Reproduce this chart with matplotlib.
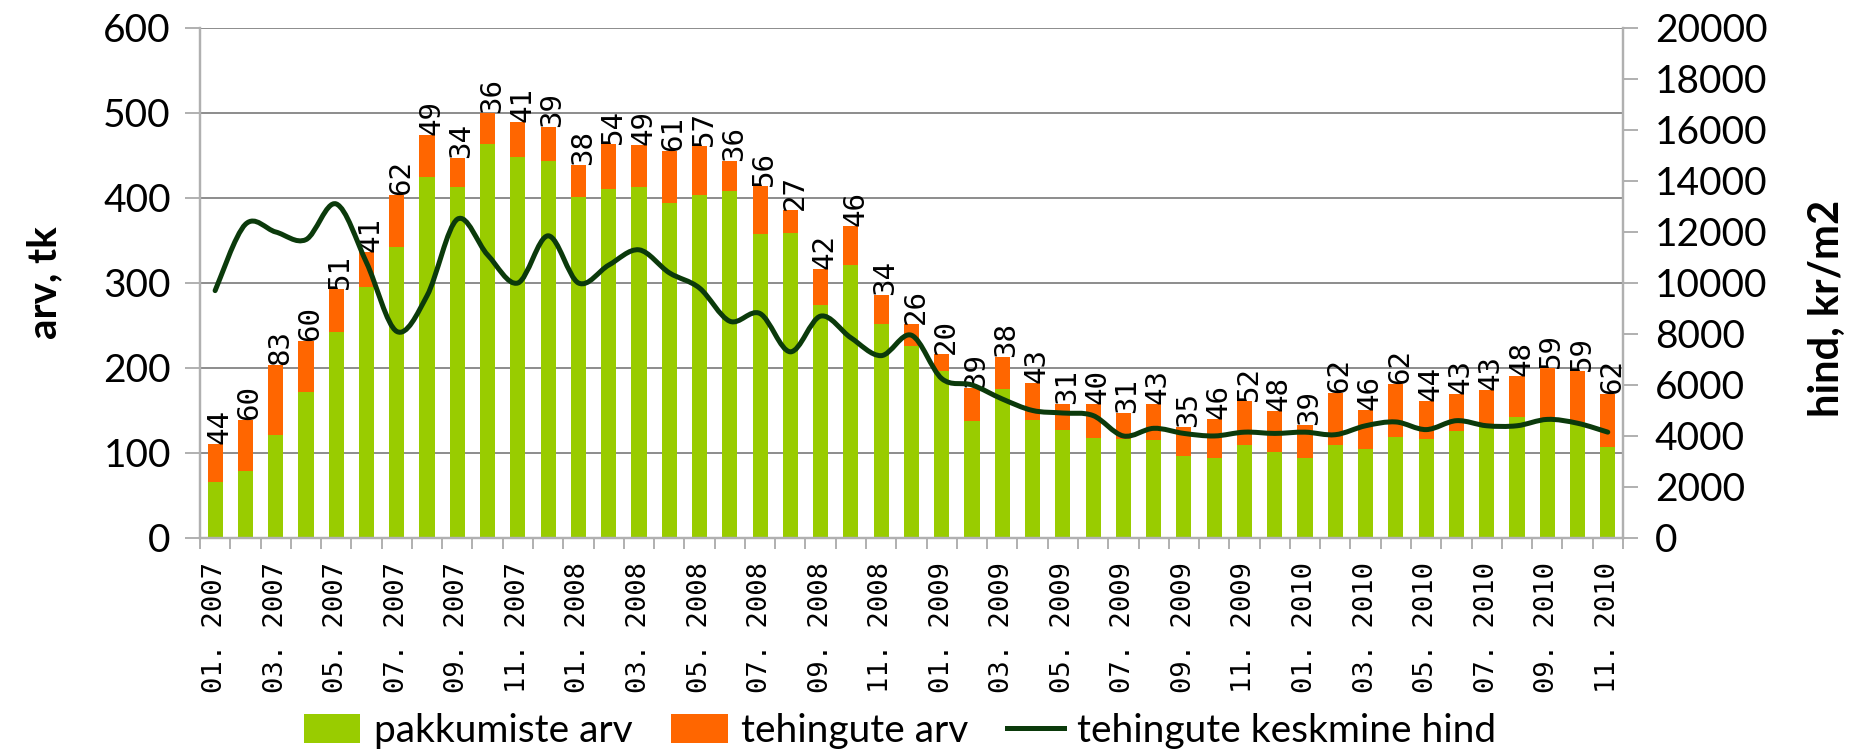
import matplotlib
matplotlib.use("Agg")
import matplotlib.pyplot as plt
from matplotlib.path import Path
from matplotlib.patches import PathPatch, Patch
from matplotlib.lines import Line2D
import numpy as np

# -------------------------------------------------------------
# Andmed: kuud 01.2007 - 11.2010
# -------------------------------------------------------------
kuud = [
    "01. 2007", "02. 2007", "03. 2007", "04. 2007", "05. 2007", "06. 2007",
    "07. 2007", "08. 2007", "09. 2007", "10. 2007", "11. 2007", "12. 2007",
    "01. 2008", "02. 2008", "03. 2008", "04. 2008", "05. 2008", "06. 2008",
    "07. 2008", "08. 2008", "09. 2008", "10. 2008", "11. 2008", "12. 2008",
    "01. 2009", "02. 2009", "03. 2009", "04. 2009", "05. 2009", "06. 2009",
    "07. 2009", "08. 2009", "09. 2009", "10. 2009", "11. 2009", "12. 2009",
    "01. 2010", "02. 2010", "03. 2010", "04. 2010", "05. 2010", "06. 2010",
    "07. 2010", "08. 2010", "09. 2010", "10. 2010", "11. 2010",
]

pakkumiste_arv = [
    66, 79, 121, 172, 242, 295, 342, 425, 413, 464, 448, 444,
    401, 410, 413, 394, 404, 408, 358, 359, 274, 321, 252, 226,
    196, 138, 175, 139, 127, 118, 116, 115, 96, 94, 109, 101,
    94, 109, 105, 119, 117, 126, 131, 142, 141, 137, 107,
]

tehingute_arv = [
    44, 60, 83, 60, 51, 41, 62, 49, 34, 36, 41, 39,
    38, 54, 49, 61, 57, 36, 56, 27, 42, 46, 34, 26,
    20, 39, 38, 43, 31, 40, 31, 43, 35, 46, 52, 48,
    39, 62, 46, 62, 44, 43, 43, 48, 59, 59, 62,
]

keskmine_hind = [
    9700, 12300, 12000, 11700, 13100, 10800, 8100, 9500, 12500, 11100, 10000, 11850,
    10000, 10700, 11300, 10400, 9800, 8500, 8800, 7300, 8700, 7850, 7150, 7950,
    6250, 6000, 5450, 5000, 4900, 4800, 4000, 4300, 4100, 4000, 4150, 4100,
    4150, 4050, 4400, 4550, 4250, 4600, 4400, 4400, 4650, 4500, 4150,
]

ROHELINE = "#99CC00"
ORANZ = "#FF6600"
JOON = "#0B3A0B"
HALL = "#8C8C8C"
SPINE = "#B0B0B0"

plt.rcParams["font.family"] = ["Lato", "DejaVu Sans"]


def sujuv_tee(x, y):
    # Exceli "smoothed line" sarnane Bezier kõver läbi andmepunktide
    n = len(x)
    verts = [(x[0], y[0])]
    codes = [Path.MOVETO]
    for i in range(n - 1):
        xp, yp = (x[i - 1], y[i - 1]) if i > 0 else (x[i], y[i])
        xn, yn = (x[i + 2], y[i + 2]) if i + 2 < n else (x[i + 1], y[i + 1])
        c1 = (x[i] + (x[i + 1] - xp) / 6, y[i] + (y[i + 1] - yp) / 6)
        c2 = (x[i + 1] - (xn - x[i]) / 6, y[i + 1] - (yn - y[i]) / 6)
        verts += [c1, c2, (x[i + 1], y[i + 1])]
        codes += [Path.CURVE4] * 3
    return Path(verts, codes)


x = np.arange(len(kuud))
kokku = np.array(pakkumiste_arv) + np.array(tehingute_arv)

fig = plt.figure(figsize=(18.62, 7.56), dpi=100)
ax = fig.add_axes([0.1074, 0.2884, 0.7642, 0.6746])
ax2 = ax.twinx()

ax.bar(x, pakkumiste_arv, width=0.5, color=ROHELINE, zorder=2)
ax.bar(x, tehingute_arv, width=0.5, bottom=pakkumiste_arv, color=ORANZ, zorder=2)

for xi, tot, lab in zip(x, kokku, tehingute_arv):
    ax.annotate(str(lab), (xi, tot), xytext=(3, 0), textcoords="offset points",
                rotation=90, ha="center", va="bottom", fontsize=21,
                family="DejaVu Sans Mono", zorder=3)

ax.set_xlim(-0.5, len(kuud) - 0.5)
ax.set_ylim(0, 600)
ax.set_yticks(range(0, 601, 100))
ax.grid(axis="y", color=HALL, linewidth=1.4, zorder=0)
ax.set_axisbelow(True)

# x-teljel kriipsud kategooriate vahel, sildid iga teise kuu keskel
ax.set_xticks(np.arange(-0.5, len(kuud), 1.0))
ax.set_xticklabels([])
ax.tick_params(axis="x", which="major", length=8, color=SPINE, width=1.4)
ax.set_xticks(x[::2], minor=True)
ax.set_xticklabels(kuud[::2], minor=True, rotation=90, family="DejaVu Sans Mono",
                   fontsize=19.5)
ax.tick_params(axis="x", which="minor", length=0, pad=17)

ax.tick_params(axis="y", labelsize=28, length=11, color=SPINE, width=1.4, pad=10)
ax.set_ylabel("arv, tk", fontsize=29, fontweight="bold")
ax.yaxis.set_label_coords(-0.096, 0.5)

ax2.add_patch(PathPatch(sujuv_tee(x, keskmine_hind), fill=False, edgecolor=JOON,
                        linewidth=3.6, capstyle="round", joinstyle="round", zorder=4))
ax2.set_ylim(0, 20000)
ax2.set_yticks(range(0, 20001, 2000))
ax2.tick_params(axis="y", labelsize=28, length=11, color=SPINE, width=1.4, pad=12)
ax2.set_ylabel("hind, kr/m2", fontsize=30, fontweight="bold")
ax2.yaxis.set_label_coords(1.13, 0.45)

for a in (ax, ax2):
    a.spines["top"].set_visible(False)
    for s in ("left", "right", "bottom"):
        a.spines[s].set_color(SPINE)
        a.spines[s].set_linewidth(1.6)

kasitsejad = [
    Patch(facecolor=ROHELINE, edgecolor="none"),
    Patch(facecolor=ORANZ, edgecolor="none"),
    Line2D([], [], color=JOON, linewidth=3.6),
]
fig.legend(kasitsejad, ["pakkumiste arv", "tehingute arv", "tehingute keskmine hind"],
           loc="center", bbox_to_anchor=(0.4834, 0.033), ncol=3, frameon=False,
           fontsize=28, handlelength=1.45, handleheight=0.8, handletextpad=0.35,
           columnspacing=1.0)

fig.savefig("out.png", dpi=100)
